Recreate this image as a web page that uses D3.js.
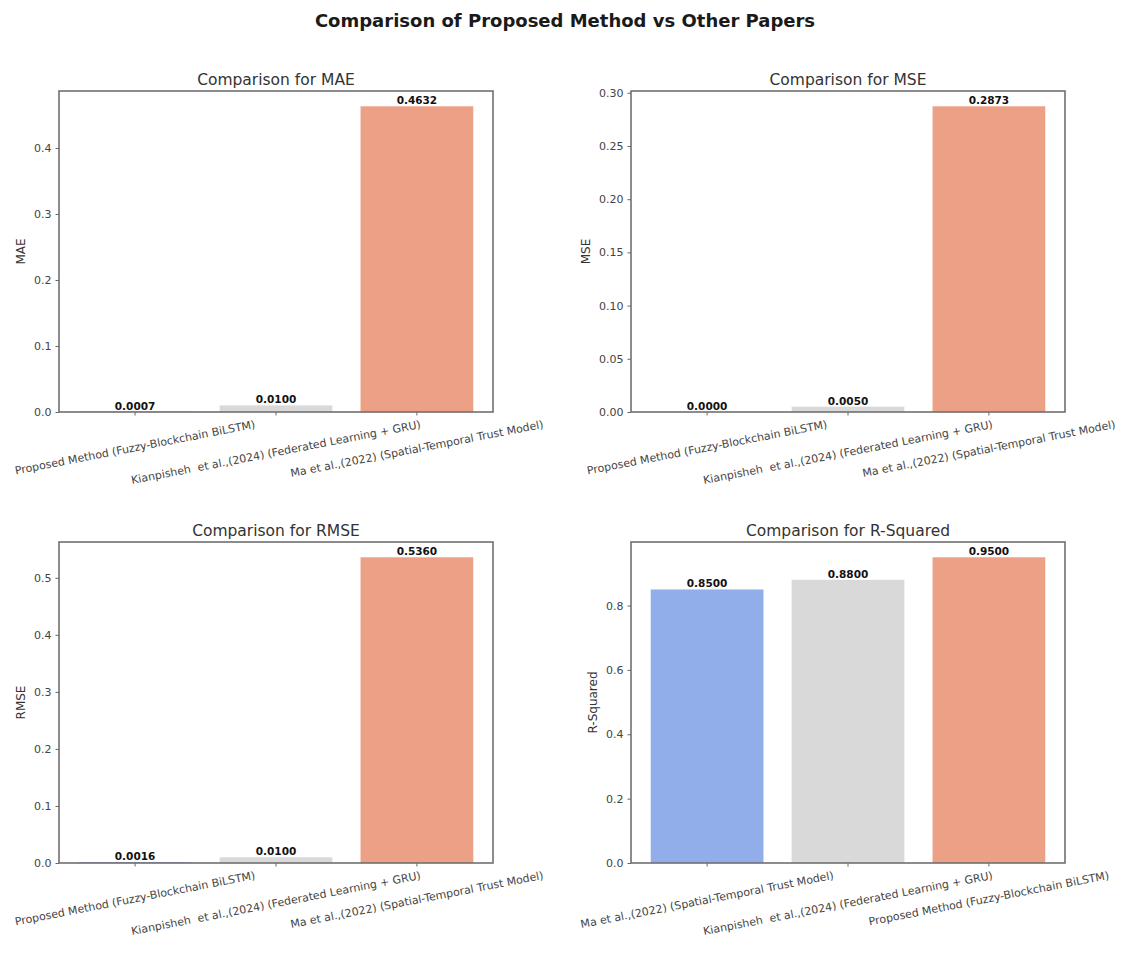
<!DOCTYPE html>
<html>
<head>
<meta charset="utf-8">
<script src="https://cdn.jsdelivr.net/npm/d3@7"></script>
<style>
  html, body { margin: 0; padding: 0; background: #ffffff; }
  svg text { font-family: "DejaVu Sans", sans-serif; }
</style>
</head>
<body>
<svg id="chart" width="1126" height="968"></svg>
<script>
// ---------- data ----------
const figureTitle = "Comparison of Proposed Method vs Other Papers";
const catsError = [
  "Proposed Method (Fuzzy-Blockchain BiLSTM)",
  "Kianpisheh  et al.,(2024) (Federated Learning + GRU)",
  "Ma et al.,(2022) (Spatial-Temporal Trust Model)"
];
const catsR2 = [
  "Ma et al.,(2022) (Spatial-Temporal Trust Model)",
  "Kianpisheh  et al.,(2024) (Federated Learning + GRU)",
  "Proposed Method (Fuzzy-Blockchain BiLSTM)"
];
const maeValues = [0.0007, 0.0100, 0.4632];
const mseValues = [0.0000, 0.0050, 0.2873];
const rmseValues = [0.0016, 0.0100, 0.5360];
const r2Values = [0.8500, 0.8800, 0.9500];
const maeTicks = [0.0, 0.1, 0.2, 0.3, 0.4];
const mseTicks = [0.00, 0.05, 0.10, 0.15, 0.20, 0.25, 0.30];
const rmseTicks = [0.0, 0.1, 0.2, 0.3, 0.4, 0.5];
const r2Ticks = [0.0, 0.2, 0.4, 0.6, 0.8];
const barColors = ["#92aeea", "#d9d9d9", "#eca085"];

// ---------- layout ----------
const panels = [
  {metric: "MAE", cats: catsError, values: maeValues, ticks: maeTicks, fmt: ".1f", x0: 59, y0: 91},
  {metric: "MSE", cats: catsError, values: mseValues, ticks: mseTicks, fmt: ".2f", x0: 631, y0: 91},
  {metric: "RMSE", cats: catsError, values: rmseValues, ticks: rmseTicks, fmt: ".1f", x0: 59, y0: 542},
  {metric: "R-Squared", cats: catsR2, values: r2Values, ticks: r2Ticks, fmt: ".1f", x0: 631, y0: 542}
];
const W = 434, H = 321;
const svg = d3.select("#chart");

svg.append("text")
  .attr("x", 565).attr("y", 27)
  .attr("text-anchor", "middle")
  .attr("font-size", "18px").attr("font-weight", "bold")
  .attr("fill", "#1a1a1a")
  .text(figureTitle);

const rot = 11; // degrees
panels.forEach(p => {
  const g = svg.append("g").attr("transform", `translate(${p.x0},${p.y0})`);
  const x = d3.scaleBand().domain(p.cats).range([0, W]).paddingInner(0.2).paddingOuter(0.14);
  const y = d3.scaleLinear().domain([0, d3.max(p.values) * 1.05]).range([H, 0]);

  // bars
  g.selectAll("rect.bar").data(p.values).join("rect")
    .attr("class", "bar")
    .attr("x", (d, i) => x(p.cats[i]))
    .attr("width", x.bandwidth())
    .attr("y", d => y(d))
    .attr("height", d => H - y(d))
    .attr("fill", (d, i) => barColors[i]);

  // value labels
  g.selectAll("text.val").data(p.values).join("text")
    .attr("class", "val")
    .attr("x", (d, i) => x(p.cats[i]) + x.bandwidth() / 2)
    .attr("y", d => y(d) - 2)
    .attr("text-anchor", "middle")
    .attr("font-size", "10.5px").attr("font-weight", "bold")
    .attr("fill", "#111")
    .text(d => d3.format(".4f")(d));

  // y axis
  const yAxis = d3.axisLeft(y).tickValues(p.ticks).tickFormat(d3.format(p.fmt)).tickSize(3.5).tickPadding(4);
  const ya = g.append("g").call(yAxis);
  ya.select(".domain").remove();
  ya.selectAll("line").attr("stroke", "#666");
  ya.selectAll("text").attr("font-size", "11px").attr("fill", "#444").attr("font-family", "DejaVu Sans");
  let maxW = 0;
  ya.selectAll("text").each(function() { maxW = Math.max(maxW, this.getComputedTextLength()); });

  // x axis ticks
  const xAxis = d3.axisBottom(x).tickSize(3.5).tickFormat("");
  const xa = g.append("g").attr("transform", `translate(0,${H})`).call(xAxis);
  xa.select(".domain").remove();
  xa.selectAll("line").attr("stroke", "#666");

  // rotated x tick labels (centered bbox under tick)
  p.cats.forEach(c => {
    const t = g.append("text")
      .attr("font-size", "11px").attr("fill", "#444")
      .attr("text-anchor", "middle")
      .attr("dominant-baseline", "central")
      .style("white-space", "pre")
      .text(c);
    const L = t.node().getComputedTextLength();
    const h = 11;
    const th = rot * Math.PI / 180;
    const cx = x(c) + x.bandwidth() / 2;
    const cy = H + 7 + (L * Math.sin(th) + h * Math.cos(th)) / 2;
    t.attr("transform", `translate(${cx},${cy}) rotate(${-rot})`);
  });

  // frame
  g.append("rect").attr("x", 0).attr("y", 0).attr("width", W).attr("height", H)
    .attr("fill", "none").attr("stroke", "#707070").attr("stroke-width", 1.6);

  // subplot title
  g.append("text").attr("x", W / 2).attr("y", -6)
    .attr("text-anchor", "middle").attr("font-size", "15.5px").attr("fill", "#333")
    .text("Comparison for " + p.metric);

  // y label
  g.append("text")
    .attr("transform", `translate(${-maxW - 17},${H / 2}) rotate(-90)`)
    .attr("text-anchor", "middle").attr("font-size", "12px").attr("fill", "#333")
    .text(p.metric);
});
</script>
</body>
</html>
